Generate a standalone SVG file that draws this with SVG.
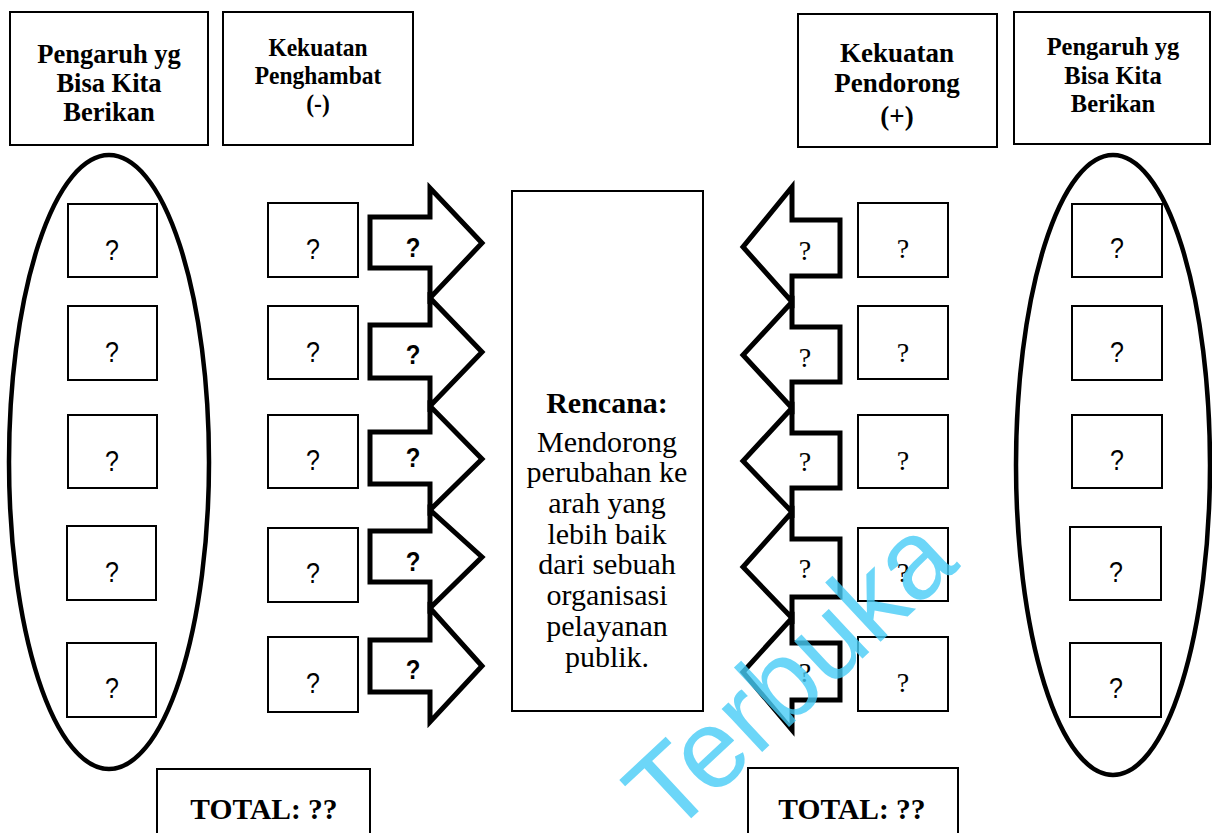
<svg xmlns="http://www.w3.org/2000/svg" width="1212" height="833" viewBox="0 0 1212 833">
<style>
.box{fill:#fff;stroke:#000;stroke-width:2}
.hbox{fill:#fff;stroke:#000;stroke-width:2}
.ell{fill:none;stroke:#000;stroke-width:4.5}
.arr{fill:#fff;stroke:#000;stroke-width:5;stroke-linejoin:miter}
.hd{font-family:"Liberation Serif","Times New Roman",serif;font-weight:bold;fill:#000;text-anchor:middle}
.qs{font-family:"Liberation Sans",Arial,sans-serif;font-size:25px;fill:#000;text-anchor:middle}
.qb{font-family:"Liberation Sans",Arial,sans-serif;font-size:24px;font-weight:bold;fill:#000;text-anchor:middle}
.qr{font-family:"Liberation Serif","Times New Roman",serif;font-size:28px;fill:#000;text-anchor:middle}
.ct{font-family:"Liberation Serif","Times New Roman",serif;font-size:30px;fill:#000;text-anchor:middle}
.tot{font-family:"Liberation Serif","Times New Roman",serif;font-size:29.5px;font-weight:bold;fill:#000;text-anchor:middle}
.wm{font-family:"Liberation Sans",Arial,sans-serif;font-size:112px;fill:#48cdf7;opacity:0.8}
</style>
<rect width="1212" height="833" fill="#fff"/>

<g id="header-left-pengaruh">
<rect class="hbox" x="10" y="12" width="198" height="133"/>
<text class="hd" font-size="26.5" transform="translate(109,63) scale(1,1.05)">Pengaruh yg</text>
<text class="hd" font-size="26.5" transform="translate(109,92) scale(1,1.05)">Bisa Kita</text>
<text class="hd" font-size="26.5" transform="translate(109,121) scale(1,1.05)">Berikan</text>
</g>
<g id="header-penghambat">
<rect class="hbox" x="223" y="12" width="190" height="133"/>
<text class="hd" font-size="23.5" transform="translate(318,56) scale(1,1.05)">Kekuatan</text>
<text class="hd" font-size="23.5" transform="translate(318,84) scale(1,1.05)">Penghambat</text>
<text class="hd" font-size="23.5" transform="translate(318,112) scale(1,1.05)">(-)</text>
</g>
<g id="header-pendorong">
<rect class="hbox" x="798" y="14" width="199" height="133"/>
<text class="hd" font-size="27" transform="translate(897,62) scale(1,1.05)">Kekuatan</text>
<text class="hd" font-size="27" transform="translate(897,92) scale(1,1.05)">Pendorong</text>
<text class="hd" font-size="27" transform="translate(897,125) scale(1,1.05)">(+)</text>
</g>
<g id="header-right-pengaruh">
<rect class="hbox" x="1014" y="12" width="196" height="132"/>
<text class="hd" font-size="24.5" transform="translate(1113,55) scale(1,1.05)">Pengaruh yg</text>
<text class="hd" font-size="24.5" transform="translate(1113,84) scale(1,1.05)">Bisa Kita</text>
<text class="hd" font-size="24.5" transform="translate(1113,112) scale(1,1.05)">Berikan</text>
</g>

<g id="left-ellipse-group">
<g id="pengaruh-left-1"><rect class="box" x="68" y="204" width="89" height="73"/><text class="qs" transform="translate(112,260) scale(1,1.15)">?</text></g>
<g id="pengaruh-left-2"><rect class="box" x="68" y="306" width="89" height="74"/><text class="qs" transform="translate(112,362) scale(1,1.15)">?</text></g>
<g id="pengaruh-left-3"><rect class="box" x="68" y="415" width="89" height="73"/><text class="qs" transform="translate(112,471) scale(1,1.15)">?</text></g>
<g id="pengaruh-left-4"><rect class="box" x="67" y="526" width="89" height="74"/><text class="qs" transform="translate(112,582) scale(1,1.15)">?</text></g>
<g id="pengaruh-left-5"><rect class="box" x="67" y="643" width="89" height="74"/><text class="qs" transform="translate(112,698) scale(1,1.15)">?</text></g>
<ellipse id="left-ellipse" class="ell" cx="109" cy="462" rx="100" ry="307"/>
</g>

<g id="penghambat-column">
<g id="penghambat-1"><rect class="box" x="268" y="203" width="90" height="74"/><text class="qs" transform="translate(313,259) scale(1,1.15)">?</text></g>
<g id="penghambat-2"><rect class="box" x="268" y="306" width="90" height="73"/><text class="qs" transform="translate(313,362) scale(1,1.15)">?</text></g>
<g id="penghambat-3"><rect class="box" x="268" y="415" width="90" height="73"/><text class="qs" transform="translate(313,470) scale(1,1.15)">?</text></g>
<g id="penghambat-4"><rect class="box" x="268" y="528" width="90" height="74"/><text class="qs" transform="translate(313,583) scale(1,1.15)">?</text></g>
<g id="penghambat-5"><rect class="box" x="268" y="637" width="90" height="75"/><text class="qs" transform="translate(313,693) scale(1,1.15)">?</text></g>
</g>

<g id="connectors">
<g id="left-arrows">
<path class="arr" d="M370,217 L430,217 L430,188 L482,243 L430,298 L430,268 L370,268 Z"/>
<path class="arr" d="M370,325 L430,325 L430,298 L482,352 L430,406 L430,378 L370,378 Z"/>
<path class="arr" d="M370,432 L430,432 L430,406 L482,459 L430,510 L430,484 L370,484 Z"/>
<path class="arr" d="M370,531 L430,531 L430,510 L482,557 L430,608 L430,582 L370,582 Z"/>
<path class="arr" d="M370,640 L430,640 L430,608 L482,666 L430,722 L430,692 L370,692 Z"/>
</g>
<g id="right-arrows">
<path class="arr" d="M840,220 L792,220 L792,187 L743,247 L792,302 L792,276 L840,276 Z"/>
<path class="arr" d="M840,327 L792,327 L792,302 L743,355 L792,408 L792,382 L840,382 Z"/>
<path class="arr" d="M840,433 L792,433 L792,408 L743,461 L792,512 L792,488 L840,488 Z"/>
<path class="arr" d="M840,539 L792,539 L792,512 L743,567 L792,618 L792,597 L840,597 Z"/>
<path class="arr" d="M840,643 L792,643 L792,618 L743,672 L792,730 L792,700 L840,700 Z"/>
</g>
</g>
<g id="arrow-labels">
<text class="qb" transform="translate(413,257) scale(1,1.15)">?</text>
<text class="qb" transform="translate(413,364) scale(1,1.15)">?</text>
<text class="qb" transform="translate(413,467) scale(1,1.15)">?</text>
<text class="qb" transform="translate(413,571) scale(1,1.15)">?</text>
<text class="qb" transform="translate(413,679) scale(1,1.15)">?</text>
<text class="qr" x="805" y="260">?</text>
<text class="qr" x="805" y="367">?</text>
<text class="qr" x="805" y="471">?</text>
<text class="qr" x="805" y="578">?</text>
<text class="qr" x="805" y="682">?</text>
</g>

<g id="rencana">
<rect class="box" x="512" y="191" width="191" height="520" stroke-width="2.5"/>
<text class="ct" x="607" y="413" font-weight="bold" font-size="29">Rencana:</text>
<text class="ct" x="607" y="452">Mendorong</text>
<text class="ct" x="607" y="482">perubahan ke</text>
<text class="ct" x="607" y="513">arah yang</text>
<text class="ct" x="607" y="544">lebih baik</text>
<text class="ct" x="607" y="574">dari sebuah</text>
<text class="ct" x="607" y="605">organisasi</text>
<text class="ct" x="607" y="636">pelayanan</text>
<text class="ct" x="607" y="667">publik.</text>
</g>

<g id="pendorong-column">
<g id="pendorong-1"><rect class="box" x="858" y="203" width="90" height="74"/><text class="qr" x="903" y="258">?</text></g>
<g id="pendorong-2"><rect class="box" x="858" y="306" width="90" height="73"/><text class="qr" x="903" y="362">?</text></g>
<g id="pendorong-3"><rect class="box" x="858" y="415" width="90" height="73"/><text class="qr" x="903" y="470">?</text></g>
<g id="pendorong-4"><rect class="box" x="858" y="528" width="90" height="73"/><text class="qr" x="903" y="582">?</text></g>
<g id="pendorong-5"><rect class="box" x="858" y="637" width="90" height="74"/><text class="qr" x="903" y="692">?</text></g>
</g>

<g id="right-ellipse-group">
<g id="pengaruh-right-1"><rect class="box" x="1072" y="204" width="90" height="73"/><text class="qs" transform="translate(1117,258) scale(1,1.15)">?</text></g>
<g id="pengaruh-right-2"><rect class="box" x="1072" y="306" width="90" height="74"/><text class="qs" transform="translate(1117,362) scale(1,1.15)">?</text></g>
<g id="pengaruh-right-3"><rect class="box" x="1072" y="415" width="90" height="73"/><text class="qs" transform="translate(1117,470) scale(1,1.15)">?</text></g>
<g id="pengaruh-right-4"><rect class="box" x="1070" y="527" width="91" height="73"/><text class="qs" transform="translate(1116,582) scale(1,1.15)">?</text></g>
<g id="pengaruh-right-5"><rect class="box" x="1070" y="643" width="91" height="74"/><text class="qs" transform="translate(1116,698) scale(1,1.15)">?</text></g>
<ellipse id="right-ellipse" class="ell" cx="1113" cy="465" rx="97" ry="310"/>
</g>

<g id="total-left">
<rect class="box" x="157" y="769" width="213" height="80"/>
<text class="tot" x="264" y="819">TOTAL: ??</text>
</g>
<g id="total-right">
<rect class="box" x="748" y="768" width="210" height="80"/>
<text class="tot" x="852" y="819">TOTAL: ??</text>
</g>

<text class="wm" transform="translate(670,838) rotate(-43)">Terbuka</text>
</svg>
